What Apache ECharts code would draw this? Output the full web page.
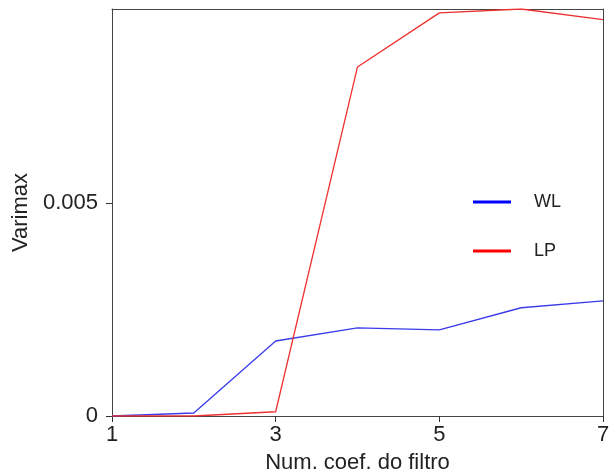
<!DOCTYPE html>
<html>
<head>
<meta charset="utf-8">
<script src="https://cdn.jsdelivr.net/npm/echarts@6/dist/echarts.min.js"></script>
<style>
  html, body { margin: 0; padding: 0; background: #fff; }
  #chart { width: 611px; height: 474px; }
</style>
</head>
<body>
<div id="chart"></div>
<script>
// Num. coef. do filtro
var coefs = [1, 2, 3, 4, 5, 6, 7];
var wlValues = [0, 0.00007, 0.00176, 0.00207, 0.00202, 0.00254, 0.0027];
var lpValues = [0, 0, 0.0001, 0.00819, 0.00946, 0.00955, 0.0093];
var xTicks = [1, 3, 5, 7];
var yTicks = [0, 0.005];

var font = 'Liberation Sans, Arial, sans-serif';
var axisColor = '#444';

function pairs(vals) {
    return coefs.map(function (c, i) { return [c, vals[i]]; });
}

var myChart = echarts.init(document.getElementById('chart'));

var option = {
    animation: false,
    grid: {
        left: 112,
        right: 8,
        top: 9,
        bottom: 58,
        outerBoundsMode: 'none',
        containLabel: false
    },
    legend: {
        orient: 'vertical',
        left: 468,
        top: 188,
        itemWidth: 38,
        itemHeight: 3,
        itemGap: 31,
        icon: 'rect',
        textStyle: {
            fontFamily: font,
            fontSize: 18,
            color: '#222',
            padding: [0, 0, 0, 18]
        },
        data: ['WL', 'LP']
    },
    xAxis: [{
        type: 'value',
        position: 'bottom',
        min: 1,
        max: 7,
        interval: 2,
        name: 'Num. coef. do filtro',
        nameLocation: 'middle',
        nameGap: 36,
        nameTextStyle: { fontFamily: font, fontSize: 22, color: '#222' },
        axisLine: { show: true, onZero: false, lineStyle: { color: axisColor, width: 1 } },
        axisTick: { show: true, inside: false, length: 6, lineStyle: { color: '#333', width: 1 }, customValues: xTicks },
        axisLabel: { fontFamily: font, fontSize: 22, color: '#222', margin: 8, customValues: xTicks },
        splitLine: { show: false }
    }, {
        type: 'value',
        position: 'top',
        min: 1,
        max: 7,
        axisLine: { show: true, onZero: false, lineStyle: { color: axisColor, width: 1 } },
        axisTick: { show: false },
        axisLabel: { show: false },
        splitLine: { show: false }
    }],
    yAxis: [{
        type: 'value',
        position: 'left',
        min: 0,
        max: 0.00955,
        name: 'Varimax',
        nameLocation: 'middle',
        nameGap: 71,
        nameTextStyle: { fontFamily: font, fontSize: 22, color: '#222' },
        axisLine: { show: true, onZero: false, lineStyle: { color: axisColor, width: 1 } },
        axisTick: { show: true, length: 6, lineStyle: { color: '#333', width: 1 }, customValues: yTicks },
        axisLabel: { fontFamily: font, fontSize: 22, color: '#222', margin: 14, customValues: yTicks },
        splitLine: { show: false }
    }, {
        type: 'value',
        position: 'right',
        min: 0,
        max: 0.00955,
        axisLine: { show: true, onZero: false, lineStyle: { color: axisColor, width: 1 } },
        axisTick: { show: false },
        axisLabel: { show: false },
        splitLine: { show: false }
    }],
    series: [{
        name: 'WL',
        type: 'line',
        showSymbol: false,
        symbol: 'none',
        lineStyle: { color: '#3b3bea', width: 1.3 },
        itemStyle: { color: '#0000ff' },
        data: pairs(wlValues)
    }, {
        name: 'LP',
        type: 'line',
        showSymbol: false,
        symbol: 'none',
        lineStyle: { color: '#ee3030', width: 1.3 },
        itemStyle: { color: '#ff0000' },
        data: pairs(lpValues)
    }]
};

myChart.setOption(option);
</script>
</body>
</html>
